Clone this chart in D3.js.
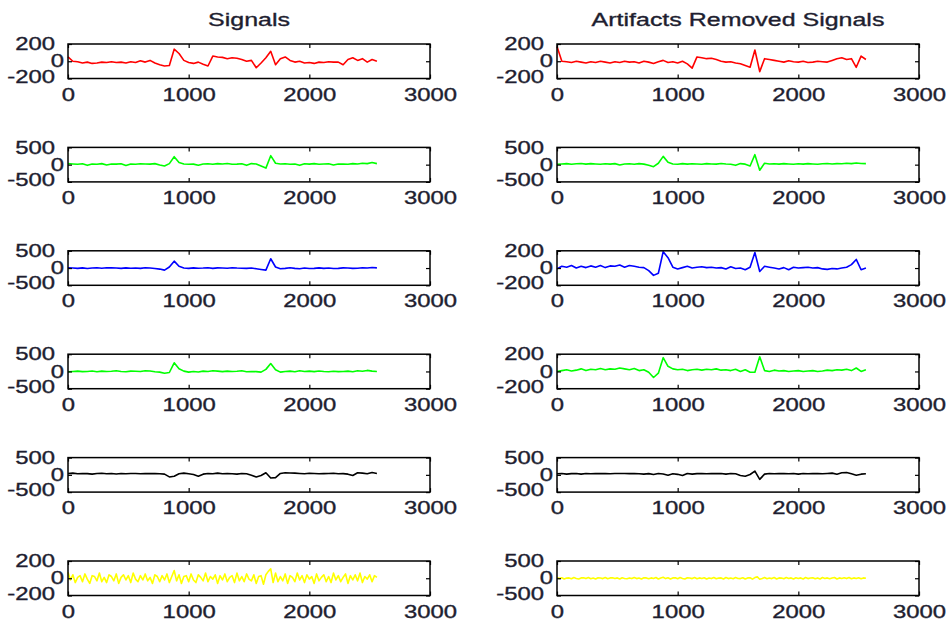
<!DOCTYPE html>
<html>
<head>
<meta charset="utf-8">
<script src="https://cdn.jsdelivr.net/npm/d3@7"></script>
<style>
  body { margin: 0; background: #fff; }
  svg { display: block; }
  text { font-family: "Liberation Sans", Arial, sans-serif; fill: #1e1e30; stroke: #1e1e30; stroke-width: 0.35px; }
</style>
</head>
<body>
<svg width="950" height="628"></svg>
<script>
// column titles and axis ticks
const titles = ["Signals", "Artifacts Removed Signals"];
const xTicks = [0, 1000, 2000, 3000];
const leftLimits = [200, 500, 500, 500, 500, 200];
const rightLimits = [200, 500, 200, 200, 500, 500];
const rowColors = ["#ff0000", "#00ff00", "#0000ff", "#00ff00", "#000000", "#ffff00"];
// sample interval of the values
const rowSteps = [40, 40, 40, 40, 40, 20];

// raw signals (left column)
const sigL1 = [50, 0, -5, -20, -10, -25, -20, -10, -15, -5,
  -15, -10, -20, -5, -15, 5, -10, 10, -20, -40,
  -55, -50, 140, 90, 10, -15, -25, -10, -35, -55,
  60, 50, 45, 30, 40, 35, 20, 0, 10, -75,
  -20, 40, 115, -40, 30, 50, 10, -10, 0, -20,
  -15, -25, -10, -15, -5, -10, -10, -40, 20, 40,
  10, 30, -10, 20, 0];
const sigL2 = [30, 20, 10, 25, -20, 20, 10, 30, -10, 20,
  15, 25, -25, 20, 10, 25, 20, 15, 30, -10,
  -40, 30, 230, 60, 20, 10, 15, -15, 20, 25,
  10, 30, 20, 35, 10, 15, 25, -20, 30, 20,
  -40, -100, 260, 40, 20, 25, 10, 20, -20, 25,
  15, 30, 10, 20, 25, -10, 20, 15, 10, 30,
  20, 40, 30, 60, 30];
const sigL3 = [10, 0, -10, 5, -15, 0, 10, -5, 10, 5,
  0, -10, 5, -5, 0, -10, 10, 0, -15, -30,
  -60, 30, 200, 50, 0, -10, 5, -5, 0, 10,
  -10, 5, 0, -5, 10, 0, -5, -10, 0, -20,
  -40, -60, 270, 30, -20, -10, 10, -10, -20, 0,
  -15, -10, 5, -10, 0, -15, -10, 5, 0, -10,
  -5, 10, 0, 15, 5];
const sigL4 = [-10, 0, 10, -5, 0, 15, -10, 10, 0, 5,
  20, 0, -10, 10, 5, 0, 20, 15, -10, -20,
  -50, -30, 250, 80, 10, -20, 0, -15, 10, 0,
  20, 10, -5, 10, 0, 5, 20, -10, 0, -5,
  -20, 60, 230, 50, -20, 0, 10, -10, 20, 0,
  10, -5, 15, 0, -10, 5, -5, 0, 10, -10,
  20, 5, 30, 10, 0];
const sigL5 = [40, 50, 30, 40, 35, 20, 40, 45, 30, 40,
  25, 40, 30, 40, 40, 30, 40, 35, 40, 30,
  20, -60, -40, 30, 50, 30, 10, -40, 20, 40,
  30, 50, 30, 40, 30, 20, 40, 30, -10, -60,
  -20, 60, -90, -80, 40, 60, 55, 50, 40, 30,
  45, 40, 30, 35, 40, 45, 30, 35, 20, -20,
  60, 50, 30, 70, 40];
const sigL6 = [70, -20, 40, -50, 10, 30, -40, 50, -10, -60, 30, 20, -30, 60, -40, 10,
  -50, 40, 20, -30, 50, -60, 10, 40, -20, 30, -50, 60, -10, -40, 30, -20,
  50, -30, 10, -60, 40, 20, -40, 30, -20, 50, -50, 20, 90, -30, 40, -60,
  20, 30, -40, 50, -20, -50, 40, 10, -30, 60, -40, 20, -10, 40, -60, 30,
  -20, 50, -40, 10, 30, -50, 60, -30, 20, -40, 50, -10, -30, 40, -60, 20,
  30, -70, 40, 80, 110, -50, 60, -40, 20, -30, 50, -60, 30, 10, -40, 60,
  -20, 30, -50, 40, -10, 20, -60, 50, -30, 10, 40, -40, 20, -50, 60, -20,
  30, -40, 10, 50, -60, 30, -20, 40, -30, 60, -50, 20, -10, 40, -40, 30,
  10];

// artifacts removed signals (right column)
const sigR1 = [170, 0, -5, -15, 0, -10, -20, -5, -15, 0,
  -10, -20, -5, -15, 0, -10, -5, -20, 0, -10,
  -25, -5, 10, -15, -5, -20, 0, -30, -80, 50,
  40, 30, 35, 20, 0, -10, -5, -20, -30, -50,
  -70, 130, -120, 30, 20, 10, 0, -10, 5, -5,
  -10, 0, -15, -10, 0, -5, -10, 10, 30, 40,
  20, 30, -70, 60, 20];
const sigR2 = [10, 20, 30, 10, 25, 35, 15, 30, 20, 10,
  25, 15, 30, -10, 20, 25, 10, 30, 15, -20,
  -60, 40, 240, 70, 20, 10, 30, 15, 25, 20,
  10, 30, 20, 15, 35, 20, 10, -20, 30, 15,
  -40, 290, -160, 40, 20, 25, 15, 30, 20, 10,
  25, 15, 30, 20, 10, 25, 35, 20, 30, 25,
  40, 30, 50, 35, 30];
const sigR3 = [-10, 20, 10, 30, 0, 20, 5, 25, 10, 30,
  5, 25, 20, 35, 10, 30, 20, 10, 5, -30,
  -85, -60, 190, 120, 10, -10, 5, 20, 0, 10,
  15, 5, 10, 0, 5, -10, 15, -5, 0, -20,
  10, 180, -40, 20, 10, 0, -10, 5, -20, 10,
  0, 5, 10, 0, 5, -10, -15, -5, -10, 0,
  10, 40, 100, -20, 0];
const sigR4 = [0, 10, 20, 5, 15, 30, 10, 25, 20, 35,
  20, 30, 25, 40, 30, 20, 35, 10, 20, -10,
  -70, -20, 160, 60, 30, 20, 25, 10, 20, 25,
  15, 25, 20, 30, 15, 20, 10, 25, 0, 20,
  -10, -10, 170, 10, 0, 15, 5, 10, 0, 5,
  10, 0, 5, 10, 0, 5, 15, 10, 20, 15,
  25, 10, 40, 0, 20];
const sigR5 = [30, 40, 20, 35, 40, 20, 40, 30, 40, 35,
  40, 30, 40, 40, 40, 35, 40, 30, 20, 35,
  10, 40, 25, -10, 30, 15, -20, 40, 20, 35,
  40, 30, 40, 35, 40, 20, 40, 30, -20, -40,
  10, 110, -130, 20, 40, 30, 35, 40, 30, 40,
  20, 40, 30, 35, 40, 30, 40, 50, 20, 60,
  70, 30, -10, 20, 30];
const sigR6 = [20, -10, 15, -20, 5, 10, -15, 20, -5, -20, 10, 15, -10, 20, -15, 5,
  -20, 15, 5, -10, 20, -15, 10, 15, -5, 10, -20, 15, -5, -15, 10, -10,
  20, -10, 5, -20, 15, 10, -15, 10, -5, 20, -20, 10, 30, -10, 15, -20,
  10, 15, -15, 20, -5, -20, 15, 5, -10, 20, -15, 10, -5, 15, -20, 10,
  -10, 20, -15, 5, 10, -20, 20, -10, 5, -15, 20, -5, -10, 15, -20, 10,
  15, -25, 20, 40, -30, -10, 20, -15, 5, -10, 20, -20, 10, 5, -15, 20,
  -5, 10, -20, 15, -5, 10, -20, 20, -10, 5, 15, -15, 10, -20, 20, -5,
  10, -15, 5, 20, -20, 10, -5, 15, -10, 20, -15, 10, -5, 15, -15, 10,
  0];

const leftSignals = [sigL1, sigL2, sigL3, sigL4, sigL5, sigL6];
const rightSignals = [sigR1, sigR2, sigR3, sigR4, sigR5, sigR6];

const svg = d3.select("svg");
svg.append("rect").attr("width", 950).attr("height", 628).attr("fill", "#fff");

// layout of the 6x2 grid (stretched horizontally like the source figure)
const colX = [68, 557];
const plotW = 362;
const plotH = 34.5;
const rowTop = i => 44 + i * 103.4;
const stretch = 1.35;
const fontSize = 17.7;

function drawPanel(x0, top, lim, values, color, step) {
    const x = d3.scaleLinear().domain([0, 3000]).range([x0, x0 + plotW]);
    const y = d3.scaleLinear().domain([-lim, lim]).range([top + plotH, top]);
    const g = svg.append("g");

    g.append("rect")
        .attr("x", x0).attr("y", top)
        .attr("width", plotW).attr("height", plotH)
        .attr("fill", "#fff");

    const line = d3.line()
        .x((d, i) => x(i * step))
        .y(d => y(d));

    g.append("path")
        .datum(values)
        .attr("d", line)
        .attr("fill", "none")
        .attr("stroke", color)
        .attr("stroke-width", 1.6)
        .attr("stroke-linejoin", "round");

    const fmt = d => String(d);

    // bottom axis with labels, ticks pointing inward
    const bottom = g.append("g")
        .attr("transform", "translate(0," + (top + plotH) + ")")
        .call(d3.axisBottom(x).tickValues(xTicks).tickSizeInner(-4).tickSizeOuter(0).tickPadding(9.5).tickFormat(fmt));
    bottom.selectAll("text")
        .attr("transform", "scale(" + stretch + ",1)")
        .style("font-size", fontSize + "px");

    // top axis, ticks only
    g.append("g")
        .attr("transform", "translate(0," + top + ")")
        .call(d3.axisTop(x).tickValues(xTicks).tickSizeInner(-4).tickSizeOuter(0).tickFormat(""));

    // left axis with labels
    const left = g.append("g")
        .attr("transform", "translate(" + x0 + ",0)")
        .call(d3.axisLeft(y).tickValues([-lim, 0, lim]).tickSizeInner(-4).tickSizeOuter(0).tickFormat(fmt));
    left.selectAll("text")
        .attr("x", d => (d === 0 ? -4 : -13) / stretch)
        .attr("dy", d => d < 0 ? "0.2em" : "0.32em")
        .attr("transform", "scale(" + stretch + ",1)")
        .style("font-size", fontSize + "px");

    // right axis, ticks only
    g.append("g")
        .attr("transform", "translate(" + (x0 + plotW) + ",0)")
        .call(d3.axisRight(y).tickValues([-lim, 0, lim]).tickSizeInner(-4).tickSizeOuter(0).tickFormat(""));

    g.selectAll(".domain").remove();
    g.selectAll(".tick line").attr("stroke", "#000").attr("stroke-width", 1.2);
    g.selectAll(".tick text").attr("fill", "#1e1e30").attr("font-family", null);

    // box
    g.append("rect")
        .attr("x", x0).attr("y", top)
        .attr("width", plotW).attr("height", plotH)
        .attr("fill", "none")
        .attr("stroke", "#000")
        .attr("stroke-width", 1.5);
}

for (let i = 0; i < 6; i++) {
    drawPanel(colX[0], rowTop(i), leftLimits[i], leftSignals[i], rowColors[i], rowSteps[i]);
    drawPanel(colX[1], rowTop(i), rightLimits[i], rightSignals[i], rowColors[i], rowSteps[i]);
}

// column titles
titles.forEach((t, c) => {
    const cx = colX[c] + plotW / 2;
    svg.append("text")
        .attr("transform", "translate(" + cx + ",25.5) scale(" + stretch + ",1)")
        .attr("text-anchor", "middle")
        .style("font-size", "18.5px")
        .text(t);
});
</script>
</body>
</html>
